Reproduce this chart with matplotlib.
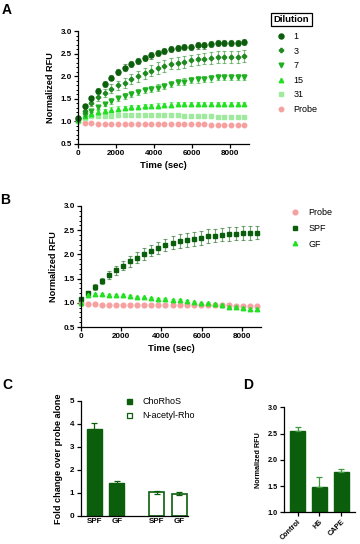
import matplotlib
matplotlib.use('Agg')
import matplotlib.pyplot as plt
from matplotlib.ticker import MultipleLocator
from matplotlib.lines import Line2D

plt.rcParams['font.family'] = ['Liberation Sans', 'DejaVu Sans']

# ---- panel A : dilution series ----
time_a = [0, 350, 700, 1050, 1400, 1750, 2100, 2450, 2800, 3150, 3500, 3850, 4200,
          4550, 4900, 5250, 5600, 5950, 6300, 6650, 7000, 7350, 7700, 8050, 8400, 8750]
dil_1 = [1.08, 1.33, 1.51, 1.68, 1.83, 1.97, 2.09, 2.19, 2.27, 2.34, 2.41, 2.46, 2.51,
         2.56, 2.60, 2.62, 2.65, 2.65, 2.68, 2.68, 2.71, 2.73, 2.73, 2.73, 2.73, 2.75]
dil_3 = [1.05, 1.22, 1.40, 1.53, 1.63, 1.72, 1.80, 1.86, 1.93, 2.00, 2.06, 2.12, 2.18,
         2.23, 2.28, 2.30, 2.32, 2.35, 2.37, 2.39, 2.40, 2.42, 2.42, 2.42, 2.43, 2.45]
dil_7 = [1.03, 1.15, 1.24, 1.32, 1.39, 1.45, 1.51, 1.56, 1.61, 1.65, 1.69, 1.72, 1.75,
         1.78, 1.83, 1.87, 1.88, 1.92, 1.93, 1.94, 1.95, 1.98, 1.98, 1.98, 1.98, 1.98]
dil_15 = [1.02, 1.12, 1.17, 1.21, 1.24, 1.26, 1.28, 1.30, 1.31, 1.32, 1.33, 1.34, 1.35,
          1.36, 1.37, 1.38, 1.38, 1.38, 1.39, 1.39, 1.39, 1.39, 1.39, 1.39, 1.39, 1.39]
dil_31 = [1.00, 1.08, 1.11, 1.12, 1.13, 1.13, 1.14, 1.14, 1.14, 1.14, 1.14, 1.14, 1.14,
          1.14, 1.14, 1.14, 1.13, 1.12, 1.12, 1.11, 1.11, 1.10, 1.10, 1.09, 1.09, 1.09]
probe_a = [1.00, 0.97, 0.96, 0.95, 0.95, 0.94, 0.94, 0.94, 0.94, 0.94, 0.94, 0.94, 0.94,
           0.94, 0.94, 0.94, 0.94, 0.94, 0.94, 0.94, 0.93, 0.93, 0.93, 0.93, 0.93, 0.93]

err_1 = [0.02, 0.04, 0.05, 0.05, 0.06, 0.06, 0.06, 0.07, 0.07, 0.07, 0.07, 0.07, 0.07,
         0.07, 0.07, 0.07, 0.07, 0.07, 0.07, 0.07, 0.07, 0.07, 0.07, 0.07, 0.07, 0.07]
err_3 = [0.02, 0.05, 0.07, 0.08, 0.09, 0.10, 0.10, 0.11, 0.11, 0.12, 0.12, 0.12, 0.13,
         0.13, 0.13, 0.13, 0.13, 0.13, 0.13, 0.13, 0.13, 0.13, 0.13, 0.13, 0.13, 0.13]
err_7 = [0.02, 0.03, 0.04, 0.05, 0.05, 0.06, 0.06, 0.06, 0.07, 0.07, 0.07, 0.07, 0.07,
         0.07, 0.07, 0.07, 0.07, 0.07, 0.07, 0.07, 0.07, 0.07, 0.07, 0.07, 0.07, 0.07]
err_15 = [0.01, 0.03, 0.04, 0.04, 0.04, 0.05, 0.05, 0.05, 0.05, 0.05, 0.05, 0.05, 0.05,
          0.05, 0.05, 0.05, 0.05, 0.05, 0.05, 0.05, 0.05, 0.05, 0.05, 0.05, 0.05, 0.05]
err_31 = [0.01, 0.02, 0.02, 0.02, 0.02, 0.02, 0.02, 0.02, 0.02, 0.02, 0.02, 0.02, 0.02,
          0.02, 0.02, 0.02, 0.02, 0.02, 0.02, 0.02, 0.02, 0.02, 0.02, 0.02, 0.02, 0.02]
err_pa = [0.01] * 26

# ---- panel B : SPF vs GF ----
time_b = time_a
probe_b = [1.00, 0.98, 0.97, 0.96, 0.95, 0.95, 0.95, 0.95, 0.95, 0.95, 0.95, 0.95, 0.96,
           0.96, 0.96, 0.96, 0.96, 0.96, 0.96, 0.95, 0.95, 0.95, 0.94, 0.94, 0.94, 0.93]
spf_b = [1.07, 1.20, 1.32, 1.45, 1.57, 1.67, 1.77, 1.86, 1.93, 2.01, 2.08, 2.13, 2.19,
         2.24, 2.28, 2.30, 2.32, 2.34, 2.38, 2.39, 2.41, 2.42, 2.43, 2.44, 2.44, 2.45]
gf_b = [1.00, 1.16, 1.18, 1.18, 1.17, 1.16, 1.16, 1.14, 1.13, 1.11, 1.10, 1.08, 1.08,
        1.06, 1.06, 1.04, 1.02, 1.00, 0.99, 0.98, 0.95, 0.92, 0.91, 0.89, 0.88, 0.87]
spf_err = [0.03, 0.05, 0.06, 0.07, 0.08, 0.09, 0.10, 0.11, 0.11, 0.12, 0.12, 0.13, 0.13,
           0.13, 0.14, 0.14, 0.14, 0.14, 0.14, 0.14, 0.14, 0.14, 0.14, 0.14, 0.14, 0.14]
gf_err = [0.02] * 26
probe_b_err = [0.01] * 26

# ---- panel C : fold change ----
c_labels = ['SPF', 'GF', 'SPF', 'GF']
chorhos = [3.76, 1.42]
chorhos_err = [0.26, 0.10]
nacetyl = [1.02, 0.97]
nacetyl_err = [0.06, 0.05]

# ---- panel D : inhibitors ----
d_labels = ['Control', 'HS', 'CAPE']
d_vals = [2.54, 1.48, 1.77]
d_err = [0.09, 0.19, 0.05]

DK = '#0b5e0b'
C3 = '#1f8a1f'
C7 = '#1fb01f'
C15 = '#22e022'
C31 = '#a0eaa0'
PINK = '#f6a0a0'

W, H = 360, 544
fig = plt.figure(figsize=(W / 100, H / 100), dpi=100)


def px_axes(l, t, r, b):
    return fig.add_axes([l / W, 1 - b / H, (r - l) / W, (b - t) / H])


def style(ax, fs=5.8):
    for s in ['top', 'right']:
        ax.spines[s].set_visible(False)
    for s in ['left', 'bottom']:
        ax.spines[s].set_linewidth(0.9)
    ax.tick_params(which='major', length=3, width=0.9, labelsize=fs, pad=1.5)
    ax.tick_params(which='minor', length=1.8, width=0.7)
    for lb in ax.get_xticklabels() + ax.get_yticklabels():
        lb.set_fontweight('bold')


def kin(ax, t, y, e, col, m, ms, lab):
    ax.errorbar(t, y, yerr=e, fmt='none', ecolor=col, alpha=0.55, elinewidth=0.8,
                capsize=1.6, capthick=0.8, clip_on=False)
    ax.plot(t, y, ls='none', marker=m, ms=ms, color=col, mec=col, clip_on=False,
            label=lab)


# A
axA = px_axes(78, 31, 249, 144)
kin(axA, time_a, probe_a, err_pa, PINK, 'o', 3.2, 'Probe')
kin(axA, time_a, dil_31, err_31, C31, 's', 3.2, '31')
kin(axA, time_a, dil_15, err_15, C15, '^', 3.2, '15')
kin(axA, time_a, dil_7, err_7, C7, 'v', 3.4, '7')
kin(axA, time_a, dil_3, err_3, C3, 'P', 3.0, '3')
kin(axA, time_a, dil_1, err_1, DK, 'o', 3.6, '1')
axA.set_xlim(0, 9000)
axA.set_ylim(0.5, 3.0)
axA.set_xticks([0, 2000, 4000, 6000, 8000])
axA.set_yticks([0.5, 1.0, 1.5, 2.0, 2.5, 3.0])
axA.yaxis.set_minor_locator(MultipleLocator(0.1))
style(axA)
axA.set_xlabel('Time (sec)', fontsize=6.8, fontweight='bold', labelpad=3)
axA.set_ylabel('Normalized RFU', fontsize=6.6, fontweight='bold', labelpad=4)

hs, ls = axA.get_legend_handles_labels()
order = [5, 4, 3, 2, 1, 0]
fig.legend([hs[i] for i in order], [ls[i] for i in order], loc='upper left',
           bbox_to_anchor=(276 / W, 1 - 32 / H), frameon=False, fontsize=6.5,
           handlelength=1.0, handletextpad=0.95, labelspacing=0.62,
           borderpad=0, borderaxespad=0)
fig.text(291.5 / W, 1 - 19.5 / H, 'Dilution', fontsize=6.8, fontweight='bold',
         ha='center', va='center',
         bbox=dict(boxstyle='square,pad=0.25', fc='white', ec='black', lw=0.9))

# B
axB = px_axes(81, 206, 261, 327)
kin(axB, time_b, probe_b, probe_b_err, PINK, 'o', 3.4, 'Probe')
kin(axB, time_b, spf_b, spf_err, DK, 's', 3.2, 'SPF')
kin(axB, time_b, gf_b, gf_err, C15, '^', 3.2, 'GF')
axB.set_xlim(0, 8950)
axB.set_ylim(0.5, 3.0)
axB.set_xticks([0, 2000, 4000, 6000, 8000])
axB.set_yticks([0.5, 1.0, 1.5, 2.0, 2.5, 3.0])
axB.yaxis.set_minor_locator(MultipleLocator(0.1))
style(axB)
axB.set_xlabel('Time (sec)', fontsize=6.8, fontweight='bold', labelpad=3)
axB.set_ylabel('Normalized RFU', fontsize=6.6, fontweight='bold', labelpad=4)
fig.legend(*axB.get_legend_handles_labels(), loc='upper left',
           bbox_to_anchor=(290.5 / W, 1 - 208 / H), frameon=False, fontsize=6.5,
           handlelength=1.0, handletextpad=0.95, labelspacing=0.75,
           borderpad=0, borderaxespad=0)

# C
axC = px_axes(80.7, 400.7, 188, 516)
xc = [0, 1, 2.77, 3.77]
axC.bar(xc[:2], chorhos, width=0.66, color=DK, edgecolor=DK, lw=1.0)
axC.errorbar(xc[:2], chorhos, yerr=chorhos_err, fmt='none', ecolor=DK, elinewidth=0.9,
             capsize=2.5, capthick=0.9)
axC.bar(xc[2:], nacetyl, width=0.66, color='white', edgecolor=DK, lw=1.2)
axC.errorbar(xc[2:], nacetyl, yerr=nacetyl_err, fmt='none', ecolor=DK, elinewidth=0.9,
             capsize=2.5, capthick=0.9)
axC.set_xlim(-0.6, 4.15)
axC.set_ylim(0, 5)
axC.set_xticks(xc)
axC.set_xticklabels(c_labels)
axC.set_yticks([0, 1, 2, 3, 4, 5])
style(axC, fs=5.8)
axC.tick_params(axis='x', length=0)
axC.set_ylabel('Fold change over probe alone', fontsize=6.6, fontweight='bold',
               labelpad=5)
legC = [Line2D([], [], ls='none', marker='s', ms=3.6, color=DK),
        Line2D([], [], ls='none', marker='s', ms=3.6, mfc='white', mec=DK, mew=0.9)]
fig.legend(legC, ['ChoRhoS', 'N-acetyl-Rho'], loc='upper left',
           bbox_to_anchor=(124.8 / W, 1 - 397 / H), frameon=False, fontsize=6.5,
           handlelength=1.0, handletextpad=0.95, labelspacing=0.55,
           borderpad=0, borderaxespad=0)

# D
axD = px_axes(284.3, 407.3, 355, 512.3)
xd = range(len(d_labels))
axD.bar(xd, d_vals, width=0.7, color=DK, edgecolor=DK)
axD.errorbar(xd, d_vals, yerr=[[0] * 3, d_err], fmt='none', ecolor='#3f9a3f',
             elinewidth=0.9, capsize=2.5, capthick=0.9)
axD.set_xlim(-0.62, 2.64)
axD.set_ylim(1.0, 3.0)
axD.set_yticks([1.0, 1.5, 2.0, 2.5, 3.0])
axD.set_xticks(list(xd))
axD.set_xticklabels(d_labels, rotation=45, ha='right', rotation_mode='anchor')
style(axD, fs=5.2)
axD.set_ylabel('Normalized RFU', fontsize=5.2, fontweight='bold', labelpad=4)

for lab, x, y in [('A', 2, 3), ('B', 0.5, 193), ('C', 2, 378), ('D', 243, 378)]:
    fig.text(x / W, 1 - y / H, lab, fontsize=10, fontweight='bold', va='top')

fig.savefig('out.png', dpi=100)
